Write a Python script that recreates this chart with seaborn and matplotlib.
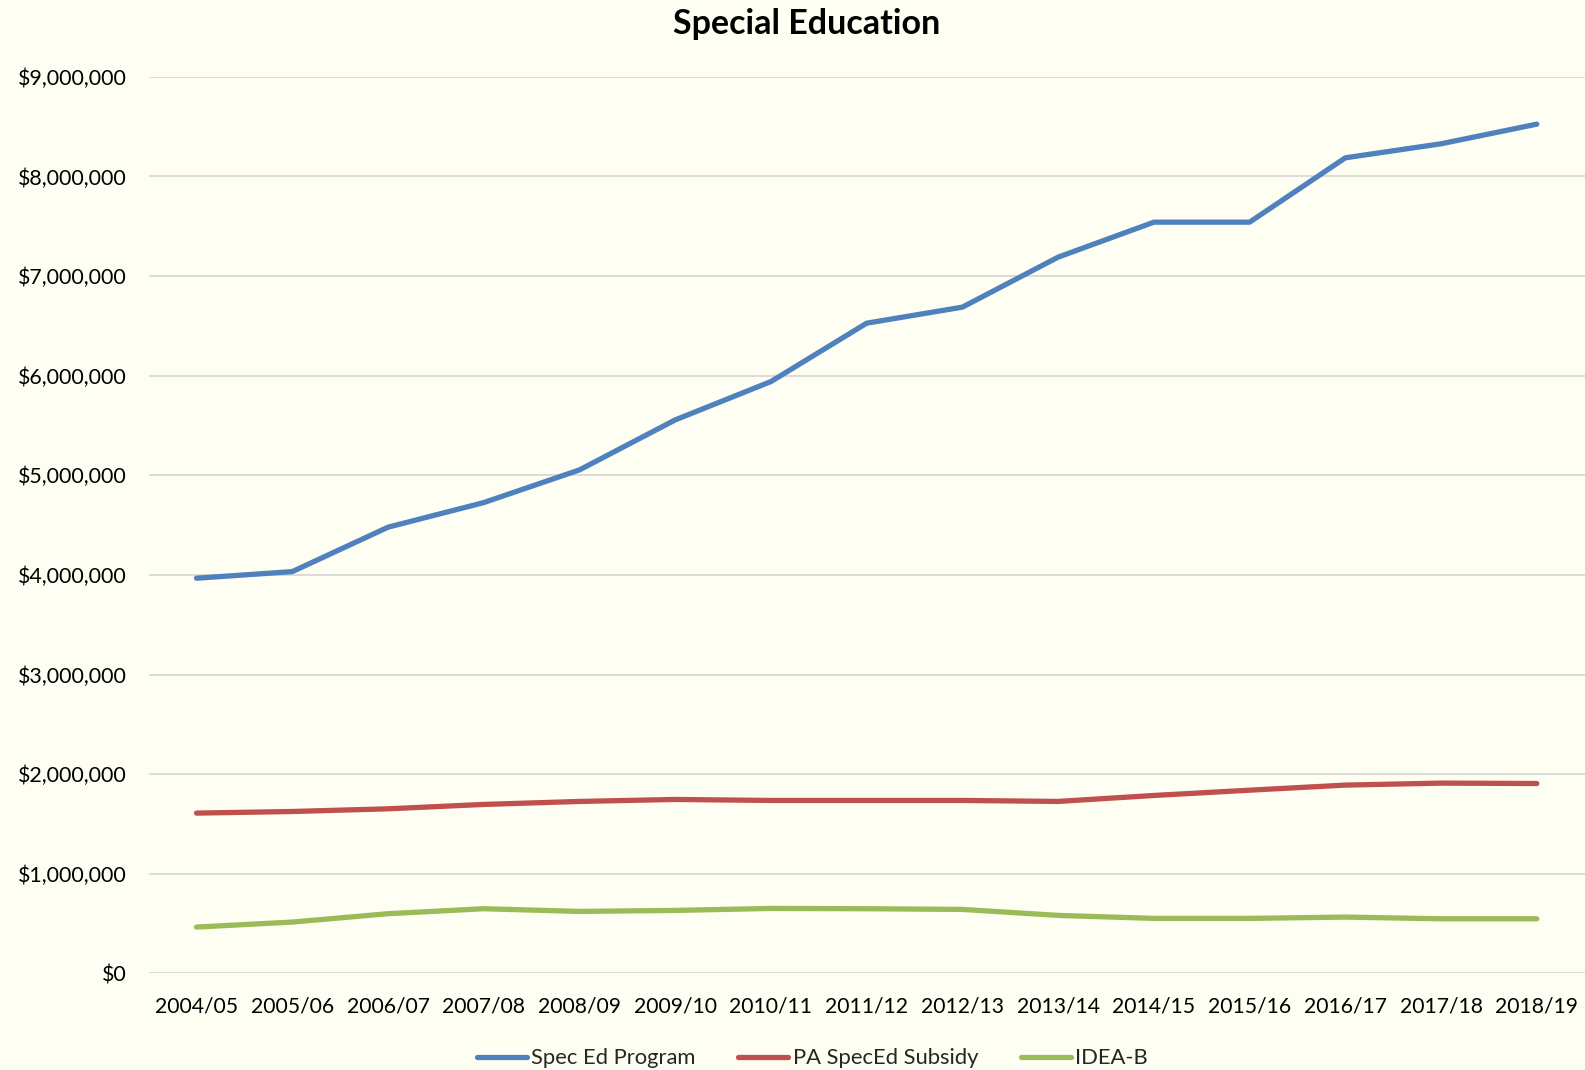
import matplotlib
matplotlib.use("Agg")
import matplotlib.pyplot as plt
from matplotlib.ticker import FuncFormatter
import pandas as pd
import seaborn as sns

years = ["2004/05", "2005/06", "2006/07", "2007/08", "2008/09", "2009/10", "2010/11",
         "2011/12", "2012/13", "2013/14", "2014/15", "2015/16", "2016/17", "2017/18", "2018/19"]
spec_ed_program = [3967000, 4033000, 4479000, 4726000, 5054000, 5556000, 5941000,
                   6527000, 6688000, 7190000, 7541000, 7541000, 8187000, 8328000, 8525000]
pa_speced_subsidy = [1609000, 1625000, 1652000, 1696000, 1726000, 1746000, 1736000,
                     1736000, 1736000, 1726000, 1786000, 1839000, 1890000, 1910000, 1906000]
idea_b = [465000, 515000, 599000, 649000, 622000, 632000, 652000,
          649000, 642000, 582000, 552000, 552000, 565000, 548000, 548000]

series_names = ["Spec Ed Program", "PA SpecEd Subsidy", "IDEA-B"]
colors = ["#4F81BD", "#C0504D", "#9BBB59"]

df = pd.DataFrame({
    "Year": years * 3,
    "Amount": spec_ed_program + pa_speced_subsidy + idea_b,
    "Series": [s for s in series_names for _ in years],
})

bg = "#FEFEF3"
sns.set_theme(style="white")
plt.rcParams["font.family"] = ["Lato", "DejaVu Sans"]

fig = plt.figure(figsize=(15.85, 10.70), dpi=100, facecolor=bg)
ax = fig.add_axes([0.0938, 0.0903, 0.906, 0.8379])
ax.set_facecolor(bg)

sns.lineplot(data=df, x="Year", y="Amount", hue="Series", hue_order=series_names,
             palette=colors, linewidth=3.8, ax=ax, sort=False,
             solid_capstyle="round", legend=False)

ax.set_xlim(-0.5, len(years) - 0.5)
ax.set_ylim(0, 9000000)
ax.set_yticks(range(0, 9000001, 1000000))
ax.yaxis.set_major_formatter(FuncFormatter(lambda v, p: "${:,.0f}".format(v)))
ax.grid(axis="y", color="#D9D9D9", linewidth=1.3)
ax.grid(axis="x", visible=False)
ax.set_axisbelow(True)
for s in ax.spines.values():
    s.set_visible(False)
ax.tick_params(axis="y", length=0, pad=16, labelsize=15.4, labelcolor="#000000")
ax.tick_params(axis="x", length=0, pad=17, labelsize=15.2, labelcolor="#000000")
ax.set_xlabel("")
ax.set_ylabel("")

fig.text(0.509, 0.978, "Special Education", ha="center", va="center",
         fontsize=24.5, fontweight="bold", color="#000000")

handles = [plt.Line2D([], [], color=c, linewidth=3.8, solid_capstyle="round") for c in colors]
fig.legend(handles, series_names, loc="center", bbox_to_anchor=(0.5125, 0.011),
           ncol=3, frameon=False, fontsize=15.8, handlelength=2.28,
           handletextpad=0.2, columnspacing=1.95)

fig.savefig("out.png", dpi=100, facecolor=bg)
